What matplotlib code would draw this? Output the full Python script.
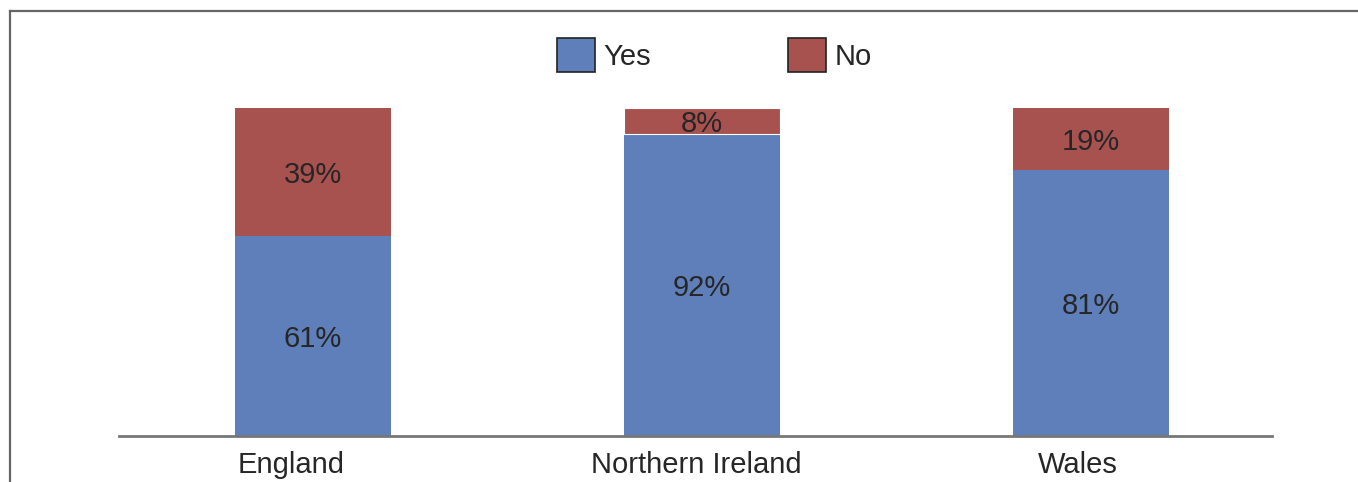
import matplotlib
matplotlib.use("Agg")
import matplotlib.pyplot as plt
from matplotlib.patches import Patch
from matplotlib.lines import Line2D

categories = ["England", "Northern Ireland", "Wales"]
yes_values = [61, 92, 81]
no_values = [39, 8, 19]
series_names = ["Yes", "No"]

BLUE = "#5E7FBA"
RED = "#A85250"
TXT = "#262626"
W, H = 1358, 482
FS = 21

plt.rcParams['font.family'] = ['Liberation Sans', 'DejaVu Sans']
fig = plt.figure(figsize=(W / 100, H / 100), dpi=100)

# axes: x pixels 118.5..1272, y pixels 20..436 (from top)
ax = fig.add_axes([118.5 / W, (H - 436) / H, (1272 - 118.5) / W, (436 - 20) / H])
x = list(range(len(categories)))
bw = 0.40
ax.bar(x, yes_values, width=bw, color=BLUE, edgecolor="none")
ax.bar(x, no_values, width=bw, bottom=yes_values, color=RED,
       edgecolor=["none", "white", "none"], linewidth=0.8)
ax.set_xlim(-0.5, 2.465)
ax.set_ylim(0, (436 - 20) / 328 * 100)

for i in x:
    ax.text(i, yes_values[i] / 2, f"{yes_values[i]}%", ha="center", va="center_baseline",
            fontsize=FS, color=TXT)
    ax.text(i, yes_values[i] + no_values[i] / 2, f"{no_values[i]}%", ha="center",
            va="center_baseline", fontsize=FS, color=TXT)

for s in ["top", "right", "left"]:
    ax.spines[s].set_visible(False)
ax.spines["bottom"].set_color("#777777")
ax.spines["bottom"].set_linewidth(2)
ax.set_yticks([])
label_pos = [-0.056, 0.986, 1.967]
ax.set_xticks(label_pos)
ax.set_xticklabels(categories, fontsize=FS, color=TXT)
ax.tick_params(axis="x", length=0, pad=11)

handles = [Patch(facecolor=BLUE, edgecolor="#222222", linewidth=1.2),
           Patch(facecolor=RED, edgecolor="#222222", linewidth=1.2)]
leg = fig.legend(handles, series_names, loc="center", bbox_to_anchor=(714.5 / W, (H - 55) / H),
                 ncol=2, frameon=False, fontsize=FS, handlelength=1.3, handleheight=1.45,
                 handletextpad=0.3, columnspacing=4.7, borderaxespad=0, borderpad=0)
for t in leg.get_texts():
    t.set_color(TXT)

# outer frame (top and left edges)
fig.add_artist(Line2D([10 / W, 1], [(H - 11) / H, (H - 11) / H], color="#666666", linewidth=1.6,
                      transform=fig.transFigure))
fig.add_artist(Line2D([10 / W, 10 / W], [0, (H - 11) / H], color="#666666", linewidth=1.6,
                      transform=fig.transFigure))

fig.savefig("out.png", dpi=100, facecolor="white")
